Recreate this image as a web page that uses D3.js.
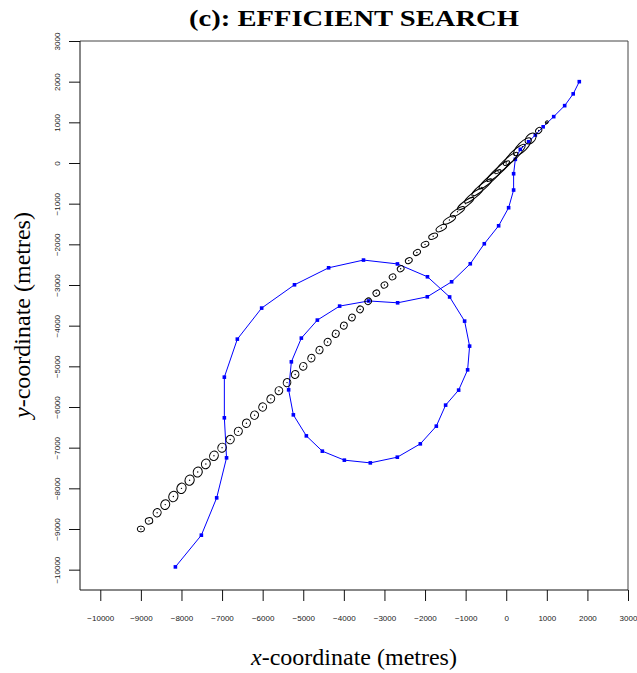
<!DOCTYPE html>
<html>
<head>
<meta charset="utf-8">
<script src="https://cdn.jsdelivr.net/npm/d3@7"></script>
<style>
  body { margin: 0; background: #fff; }
  svg { display: block; }
</style>
</head>
<body>
<div id="chart"></div>
<script>
var width = 637,
    height = 673;

// ---- data (metres) ----
var tickValues = [-10000, -9000, -8000, -7000, -6000, -5000, -4000, -3000, -2000, -1000, 0, 1000, 2000, 3000];

// blue track
var trackX = [1800, 1650, 1440, 1170, 910, 717, 552, 347, 224, 182, 182, 59, -187, -540, -885, -1345, -1944, -2675,
    -3390, -4104, -4653, -5047, -5293, -5360, -5244, -4924, -4530, -3988, -3348, -2683, -2116, -1722, -1493, -1172,
    -951, -902, -1025, -1394, -1940, -2680, -3516, -4375, -5216, -6025, -6624, -6944, -6944, -6890, -7133, -7510, -8150];
var trackY = [2000, 1700, 1410, 1140, 890, 688, 523, 336, 90, -264, -665, -1100, -1544, -1986, -2478, -2921, -3290, -3438,
    -3392, -3519, -3863, -4306, -4889, -5578, -6193, -6710, -7086, -7307, -7374, -7234, -6906, -6471, -5954, -5585,
    -5086, -4503, -3888, -3294, -2798, -2482, -2387, -2577, -2995, -3568, -4331, -5266, -6266, -7250, -8234, -9152, -9932];

// estimate ellipses: centres, semi-axes (metres), orientation (degrees)
var ellX = [-9000, -8800, -8600, -8400, -8200, -8000, -7800, -7600, -7400, -7200, -7000, -6800, -6600, -6400, -6200,
    -6000, -5800, -5600, -5400, -5200, -5000, -4800, -4600, -4400, -4200, -4000, -3800, -3600, -3400, -3200, -3000,
    -2800, -2600, -2400, -2200, -2000, -1800, -1600, -1400, -1200, -1000, -800, -600, -400, -200, 0, 200, 400, 600, 800, 1000];
var ellY = [-9000, -8800, -8600, -8400, -8200, -8000, -7800, -7600, -7400, -7200, -7000, -6800, -6600, -6400, -6200,
    -6000, -5800, -5600, -5400, -5200, -5000, -4800, -4600, -4400, -4200, -4000, -3800, -3600, -3400, -3200, -3000,
    -2800, -2600, -2400, -2200, -2000, -1800, -1600, -1400, -1200, -1000, -800, -600, -400, -200, 0, 200, 400, 600, 800, 1000];
var ellA = [90, 92, 104, 122, 130, 130, 128, 125, 122, 118, 112, 106, 104, 104, 104, 102, 102, 100, 100, 98, 96, 95, 94,
    92, 90, 88, 86, 85, 84, 84, 84, 84, 86, 88, 92, 98, 115, 140, 170, 205, 245, 285, 320, 350, 370, 380, 360, 290,
    160, 85, 40];
var ellB = [72, 80, 96, 108, 112, 112, 112, 110, 108, 106, 104, 100, 98, 98, 96, 96, 95, 94, 93, 92, 90, 88, 87, 86, 84,
    82, 80, 78, 76, 74, 74, 72, 70, 68, 66, 66, 66, 68, 66, 66, 66, 68, 70, 72, 76, 82, 92, 110, 105, 65, 30];
var ellAngle = [0, 10, 60, 70, 70, 70, 70, 70, 70, 70, 70, 70, 70, 70, 70, 70, 70, 70, 70, 70, 70, 70, 70, 70, 70, 70,
    70, 60, 40, 30, 30, 30, 30, 30, 30, 25, 25, 28, 30, 33, 36, 38, 40, 41, 42, 43, 44, 45, 45, 45, 45];

var svg = d3.select("#chart")
    .append("svg")
    .attr("width", width)
    .attr("height", height);

svg.append("rect")
    .attr("width", width)
    .attr("height", height)
    .attr("fill", "#fff");

var x = d3.scaleLinear().domain([-10500, 3000]).range([80, 628]),
    y = d3.scaleLinear().domain([-10500, 3000]).range([590, 41]);
var k = (x(1000) - x(0)) / 1000; // px per metre

// frame: top + right
svg.append("path")
    .attr("d", "M80,41H628V590")
    .attr("fill", "none")
    .attr("stroke", "#444")
    .attr("stroke-width", 1);

// axes
var xAxis = svg.append("g")
    .attr("transform", "translate(0,590)")
    .call(d3.axisBottom(x).tickValues(tickValues).tickSize(11).tickPadding(14).tickFormat(d3.format("d")));
var yAxis = svg.append("g")
    .attr("transform", "translate(80,0)")
    .call(d3.axisLeft(y).tickValues(tickValues).tickSize(11).tickPadding(0).tickFormat(d3.format("d")));

[xAxis, yAxis].forEach(function(g) {
    g.select(".domain").remove();
    g.selectAll("line").attr("stroke", "#111");
    g.selectAll("text")
        .attr("fill", "#222")
        .style("font-family", "'Liberation Sans', Arial, sans-serif")
        .style("font-size", "8px");
});
yAxis.selectAll("text")
    .attr("x", null)
    .attr("dy", null)
    .attr("text-anchor", "middle")
    .attr("transform", "translate(-20,0) rotate(-90)");

svg.append("line").attr("x1", 80).attr("x2", 628).attr("y1", 590).attr("y2", 590).attr("stroke", "#111");
svg.append("line").attr("x1", 80).attr("x2", 80).attr("y1", 41).attr("y2", 590).attr("stroke", "#111");

// blue track
var track = d3.range(trackX.length).map(function(i) { return [trackX[i], trackY[i]]; });
var line = d3.line()
    .x(function(d) { return x(d[0]); })
    .y(function(d) { return y(d[1]); });

svg.append("path")
    .datum(track)
    .attr("d", line)
    .attr("fill", "none")
    .attr("stroke", "#0000ff")
    .attr("stroke-width", 1);

svg.append("g")
    .selectAll("rect")
    .data(track)
    .enter().append("rect")
    .attr("x", function(d) { return x(d[0]) - 1.8; })
    .attr("y", function(d) { return y(d[1]) - 1.8; })
    .attr("width", 3.6)
    .attr("height", 3.6)
    .attr("fill", "#0000ff");

// ellipses
var ells = d3.range(ellX.length).map(function(i) {
    return { cx: ellX[i], cy: ellY[i], a: ellA[i], b: ellB[i], ang: ellAngle[i] };
});
var eg = svg.append("g");
eg.selectAll("ellipse")
    .data(ells)
    .enter().append("ellipse")
    .attr("cx", 0)
    .attr("cy", 0)
    .attr("rx", function(d) { return d.a * k; })
    .attr("ry", function(d) { return d.b * k; })
    .attr("transform", function(d) {
        return "translate(" + x(d.cx) + "," + y(d.cy) + ") rotate(" + (-d.ang) + ")";
    })
    .attr("fill", "none")
    .attr("stroke", "#000")
    .attr("stroke-width", 1);
eg.selectAll("circle")
    .data(ells)
    .enter().append("circle")
    .attr("cx", function(d) { return x(d.cx); })
    .attr("cy", function(d) { return y(d.cy); })
    .attr("r", 0.7)
    .attr("fill", "#000");

// titles
svg.append("text")
    .attr("x", 354)
    .attr("y", 26)
    .attr("text-anchor", "middle")
    .attr("textLength", 330)
    .attr("lengthAdjust", "spacingAndGlyphs")
    .style("font-family", "'Liberation Serif', 'Times New Roman', serif")
    .style("font-weight", "bold")
    .style("font-size", "23px")
    .text("(c): EFFICIENT SEARCH");

var xt = svg.append("text")
    .attr("x", 354)
    .attr("y", 665)
    .attr("text-anchor", "middle")
    .style("font-family", "'Liberation Serif', 'Times New Roman', serif")
    .style("font-size", "24px");
xt.append("tspan").style("font-style", "italic").text("x");
xt.append("tspan").text("-coordinate (metres)");

var yt = svg.append("text")
    .attr("transform", "translate(30,315) rotate(-90)")
    .attr("text-anchor", "middle")
    .style("font-family", "'Liberation Serif', 'Times New Roman', serif")
    .style("font-size", "24px");
yt.append("tspan").style("font-style", "italic").text("y");
yt.append("tspan").text("-coordinate (metres)");
</script>
</body>
</html>
